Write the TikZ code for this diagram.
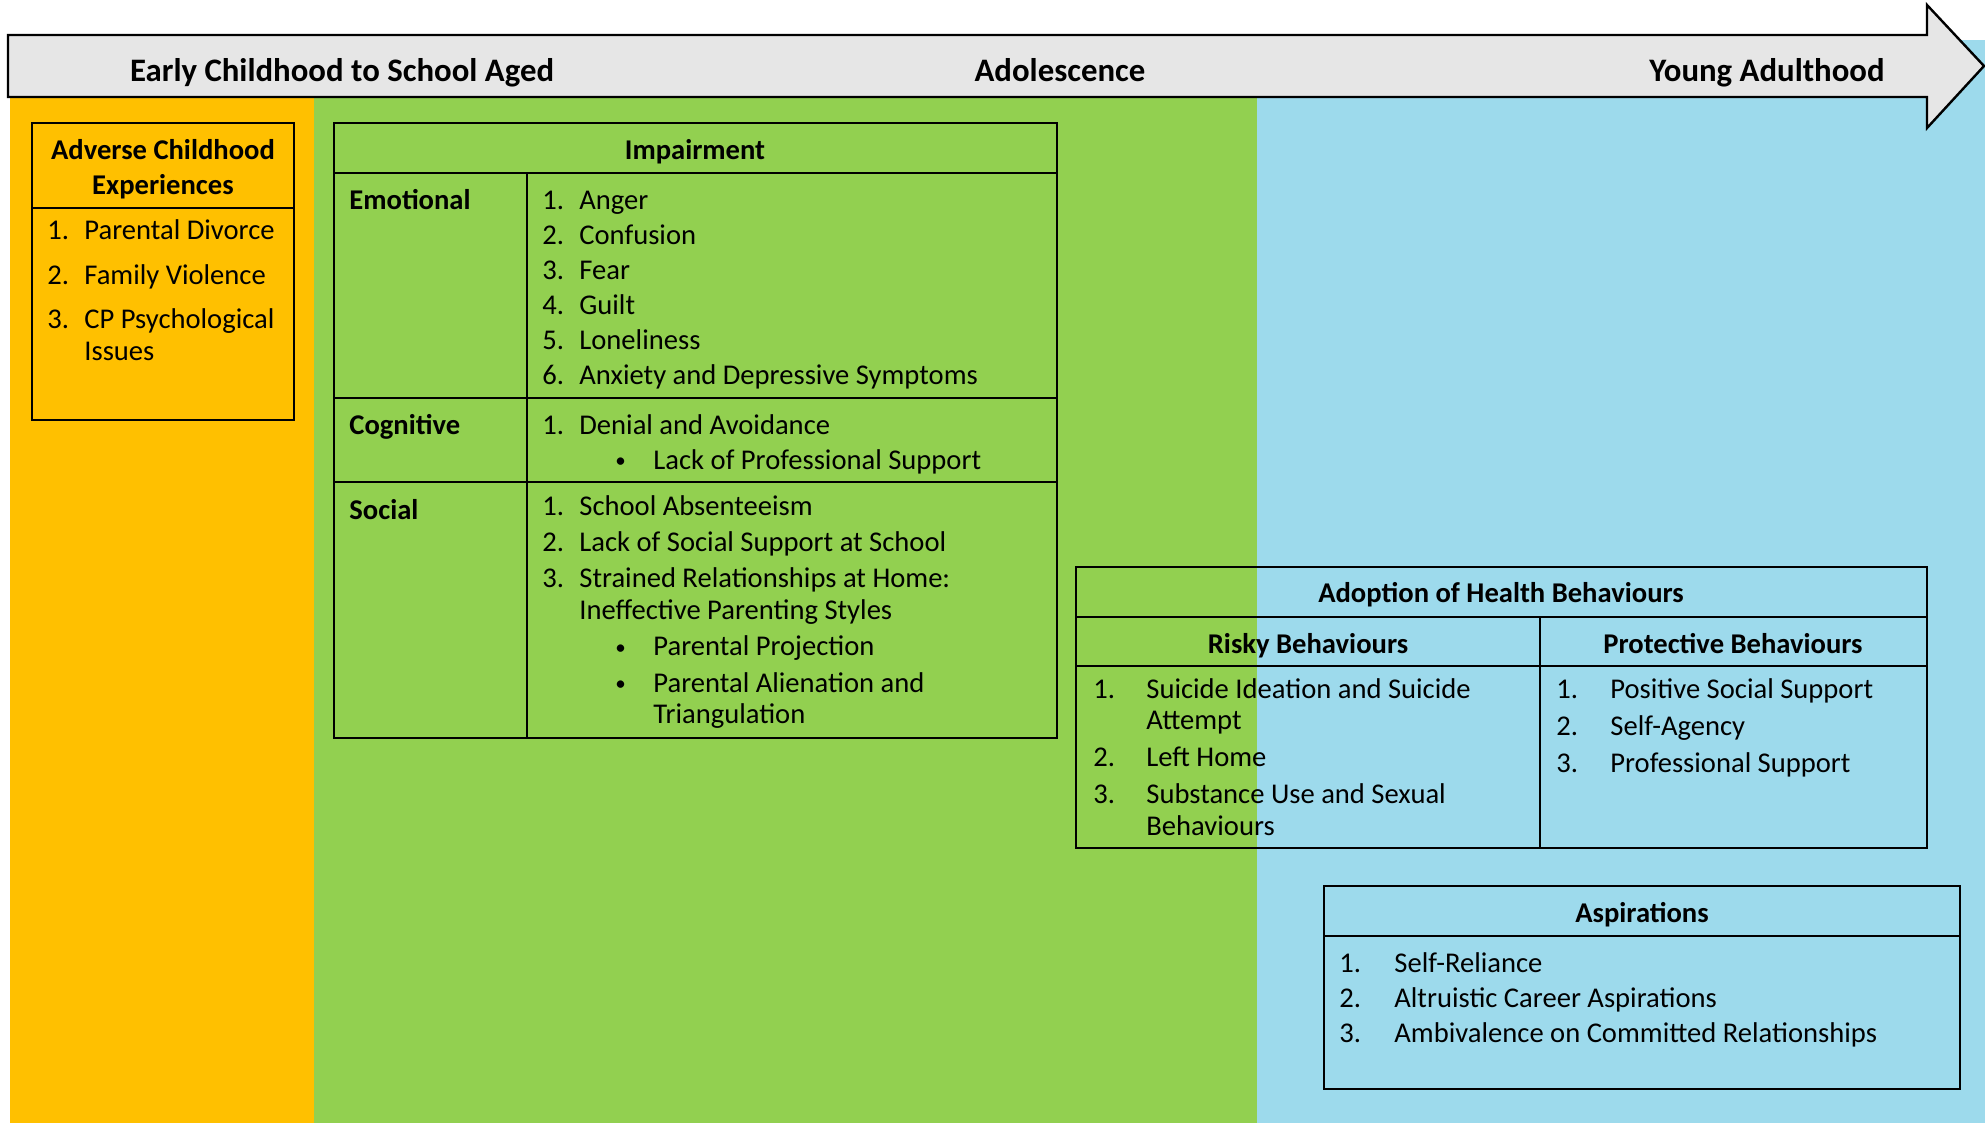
\documentclass[tikz,border=0pt]{standalone}
\usepackage{fontspec}
\setmainfont{Carlito}
\usepackage{array}
\usepackage{tikz}
\definecolor{acegold}{HTML}{FFC000}
\definecolor{teengreen}{HTML}{92D050}
\definecolor{adultblue}{HTML}{9DDAEC}
\definecolor{timegray}{HTML}{E6E6E6}
\newcommand{\bodysize}{\fontsize{14.3}{15.8}\selectfont}
\newcommand{\subbullet}[1]{\hspace*{18pt}\makebox[19pt][l]{\raisebox{0.8pt}{\fontsize{10.5}{12}\selectfont\textbullet}}#1}
\newcommand{\subcont}[1]{\hspace*{37pt}#1}

\begin{document}
\begin{tikzpicture}[
  x=0.5pt, y=-0.5pt,
  phase/.style={anchor=base, inner sep=0pt, font=\fontsize{16.4}{19}\selectfont\bfseries},
  colhead/.style={anchor=base, inner sep=0pt, font=\bodysize\bfseries},
  rowhead/.style={anchor=base west, inner sep=0pt, font=\bodysize\bfseries},
  listtext/.style={anchor=base west, inner sep=0pt, font=\bodysize},
  grid/.style={draw=black, line width=1pt},
  timeline/.style={draw=black, fill=timegray, line width=1.2pt, line join=miter}
]
  \useasboundingbox (0,0) rectangle (1985,1123);

  % Bands
  \fill[acegold] (10,97) rectangle (314,1123);
  \fill[teengreen] (314,97) rectangle (1257,1123);
  \fill[adultblue] (1257,40) rectangle (1985,1123);

  % Timeline arrow
  \draw[timeline] (8,35) -- (1927,35) -- (1927,5) -- (1984,66) -- (1927,128)
    -- (1927,97) -- (8,97) -- cycle;
  \node[phase] (early) at (342,82) {Early Childhood to School Aged};
  \node[phase] (teen) at (1060,82) {Adolescence};
  \node[phase] (adult) at (1767,82) {Young Adulthood};

  % Tables
  \draw[grid] (32,123) rectangle (294,420) (32,208) -- (294,208);
  \draw[grid] (334,123) rectangle (1057,738) (334,173) -- (1057,173)
    (527,173) -- (527,738) (334,398) -- (1057,398) (334,482) -- (1057,482);
  \draw[grid] (1076,567) rectangle (1927,848) (1076,617) -- (1927,617)
    (1076,666) -- (1927,666) (1540,617) -- (1540,848);
  \draw[grid] (1324,886) rectangle (1960,1089) (1324,936) -- (1960,936);

  % Adverse childhood experiences
  \node[colhead] (acehead) at (163,160) {\begin{tabular}[t]{@{}c@{}}Adverse Childhood\\[1.3pt]Experiences\end{tabular}};
  \node[listtext] (acelist) at (47,240) {\begin{tabular}[t]{@{}p{18.5pt}@{}l@{}}
    1. & Parental Divorce\\[6.4pt]
    2. & Family Violence\\[6.4pt]
    3. & CP Psychological\\
       & Issues
  \end{tabular}};

  % Impairment
  \node[colhead] (impair) at (695,160) {Impairment};
  \node[rowhead] (emotional) at (349,210) {Emotional};
  \node[rowhead] (cognitive) at (349,434) {Cognitive};
  \node[rowhead] (social) at (349,519) {Social};
  \node[listtext] (emolist) at (542,210) {\begin{tabular}[t]{@{}p{18.5pt}@{}l@{}}
    1. & Anger\\[1.65pt]
    2. & Confusion\\[1.65pt]
    3. & Fear\\[1.65pt]
    4. & Guilt\\[1.65pt]
    5. & Loneliness\\[1.65pt]
    6. & Anxiety and Depressive Symptoms
  \end{tabular}};
  \node[listtext] (coglist) at (542,434) {\begin{tabular}[t]{@{}p{18.5pt}@{}l@{}}
    1. & Denial and Avoidance\\[1.7pt]
       & \subbullet{Lack of Professional Support}
  \end{tabular}};
  \node[listtext] (soclist) at (542,515) {\begin{tabular}[t]{@{}p{18.5pt}@{}l@{}}
    1. & School Absenteeism\\[2.4pt]
    2. & Lack of Social Support at School\\[2.4pt]
    3. & Strained Relationships at Home:\\
       & Ineffective Parenting Styles\\[2.4pt]
       & \subbullet{Parental Projection}\\[2.4pt]
       & \subbullet{Parental Alienation and}\\
       & \subcont{Triangulation}
  \end{tabular}};

  % Adoption of health behaviours
  \node[colhead] (health) at (1501,602) {Adoption of Health Behaviours};
  \node[colhead] (risky) at (1308,653) {Risky Behaviours};
  \node[colhead] (protect) at (1733,653) {Protective Behaviours};
  \node[listtext] (risklist) at (1093,698) {\begin{tabular}[t]{@{}p{26.5pt}@{}l@{}}
    1. & Suicide Ideation and Suicide\\
       & Attempt\\[2.7pt]
    2. & Left Home\\[2.7pt]
    3. & Substance Use and Sexual\\
       & Behaviours
  \end{tabular}};
  \node[listtext] (protlist) at (1556,698) {\begin{tabular}[t]{@{}p{27pt}@{}l@{}}
    1. & Positive Social Support\\[2.7pt]
    2. & Self-Agency\\[2.7pt]
    3. & Professional Support
  \end{tabular}};

  % Aspirations
  \node[colhead] (aspire) at (1642,922) {Aspirations};
  \node[listtext] (aspirelist) at (1339,972) {\begin{tabular}[t]{@{}p{27.5pt}@{}l@{}}
    1. & Self-Reliance\\[1.7pt]
    2. & Altruistic Career Aspirations\\[1.7pt]
    3. & Ambivalence on Committed Relationships
  \end{tabular}};
\end{tikzpicture}
\end{document}
